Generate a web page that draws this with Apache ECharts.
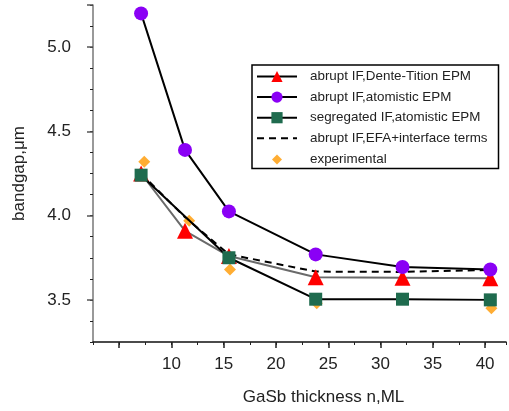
<!DOCTYPE html>
<html><head><meta charset="utf-8">
<script src="https://cdn.jsdelivr.net/npm/echarts@6/dist/echarts.min.js"></script>
<style>html,body{margin:0;padding:0;background:#fff}#c{width:509px;height:411px}</style>
</head><body><div id="c"></div>
<script>
// Data
const thickness = [7.1, 11.3, 15.5, 23.8, 32.1, 40.5];
const dentePM = [4.25, 3.91, 3.76, 3.634, 3.632, 3.628];        // abrupt IF, Dente-Tition EPM
const atomisticPM = [5.20, 4.39, 4.025, 3.77, 3.695, 3.68];     // abrupt IF, atomistic EPM
const segThickness = [7.1, 15.5, 23.8, 32.1, 40.5];
const segregatedPM = [4.24, 3.75, 3.504, 3.504, 3.50];           // segregated IF, atomistic EPM
const efaValues = [4.25, 3.99, 3.77, 3.668, 3.666, 3.678];      // abrupt IF, EFA + interface terms
const expThickness = [7.4, 11.7, 15.6, 23.9, 40.6];
const expValues = [4.32, 3.97, 3.68, 3.48, 3.45];                // experimental
const xMajorTicks = [5, 10, 15, 20, 25, 30, 35, 40];
const yMajorTicks = [3.5, 4.0, 4.5, 5.0, 5.25];
const names = ['abrupt IF,Dente-Tition EPM', 'abrupt IF,atomistic EPM', 'segregated IF,atomistic EPM', 'abrupt IF,EFA+interface terms', 'experimental'];

const zip = (xs, ys) => xs.map((x, i) => [x, ys[i]]);
const font = 'Liberation Sans, Arial, sans-serif';

const chart = echarts.init(document.getElementById('c'), null, {renderer: 'canvas'});
chart.setOption({
  animation: false,
  textStyle: {fontFamily: font},
  grid: {left: 93, top: 5, right: 2, bottom: 68, containLabel: false},
  xAxis: [{
    type: 'value', min: 2.5, max: 42, interval: 2.5,
    axisLine: {lineStyle: {color: '#111', width: 1.5}},
    axisTick: {show: true, length: 3, lineStyle: {color: '#222'}},
    splitLine: {show: false},
    axisLabel: {
      fontSize: 17, color: '#222', margin: 14, fontFamily: font,
      formatter: v => (Math.abs(v % 5) < 1e-6 && v >= 10) ? String(v) : ''
    },
    name: 'GaSb thickness n,ML', nameLocation: 'middle', nameGap: 47,
    nameTextStyle: {fontSize: 17, color: '#222', fontFamily: font, padding: [0, 0, 0, 48]}
  }, {
    type: 'value', min: 2.5, max: 42, position: 'bottom',
    axisLine: {show: false},
    axisTick: {show: true, length: 6, customValues: xMajorTicks, lineStyle: {color: '#222', width: 1.5}},
    axisLabel: {show: false}, splitLine: {show: false}
  }],
  yAxis: [{
    type: 'value', min: 3.25, max: 5.25, interval: 0.125,
    axisLine: {show: true, lineStyle: {color: '#777', width: 1.5}},
    axisTick: {show: true, length: 3, lineStyle: {color: '#222'}},
    splitLine: {show: false},
    axisLabel: {
      fontSize: 17, color: '#222', margin: 22, fontFamily: font,
      formatter: v => (Math.abs((v * 2) % 1) < 1e-6 && v < 5.2) ? v.toFixed(1) : ''
    },
    name: 'bandgap,μm', nameLocation: 'middle', nameGap: 65,
    nameTextStyle: {fontSize: 17, color: '#222', fontFamily: font}
  }, {
    type: 'value', min: 3.25, max: 5.25, position: 'left',
    axisLine: {show: false},
    axisTick: {show: true, length: 6, customValues: yMajorTicks, lineStyle: {color: '#555', width: 1.5}},
    axisLabel: {show: false}, splitLine: {show: false}
  }],
  legend: {
    left: 252, top: 65, orient: 'vertical',
    itemWidth: 40, itemHeight: 14, itemGap: 7.6,
    padding: [5, 11, 2, 4],
    borderColor: '#000', borderWidth: 1.5,
    textStyle: {fontSize: 13.4, color: '#222', fontFamily: font, padding: [0, 0, 0, 8]},
    data: [
      {name: names[0], lineStyle: {color: '#000'}},
      {name: names[1]},
      {name: names[2]},
      {name: names[3], itemStyle: {opacity: 0}},
      {name: names[4], icon: 'path://M0,0M40,14M20,2L25,7L20,12L15,7Z'}
    ]
  },
  series: [
    {
      name: names[3], type: 'line', data: zip(thickness, efaValues),
      symbol: 'none', z: 2,
      lineStyle: {color: '#000', width: 2, type: [7, 5]}, itemStyle: {color: '#000'}
    },
    {
      name: names[0], type: 'line', data: zip(thickness, dentePM),
      symbol: 'triangle', symbolSize: 16, z: 3,
      lineStyle: {color: '#6a6a6a', width: 2}, itemStyle: {color: '#ff0000'}
    },
    {
      name: names[1], type: 'line', data: zip(thickness, atomisticPM),
      symbol: 'circle', symbolSize: 14, z: 4,
      lineStyle: {color: '#000', width: 2}, itemStyle: {color: '#8a00f5'}
    },
    {
      name: names[4], type: 'scatter', data: zip(expThickness, expValues),
      symbol: 'diamond', symbolSize: 12, z: 5,
      itemStyle: {color: '#ff9900'}
    },
    {
      name: names[2], type: 'line', data: zip(segThickness, segregatedPM),
      symbol: 'rect', symbolSize: 13, z: 6,
      lineStyle: {color: '#000', width: 2}, itemStyle: {color: '#1f6b4e'}
    }
  ]
});
</script></body></html>
